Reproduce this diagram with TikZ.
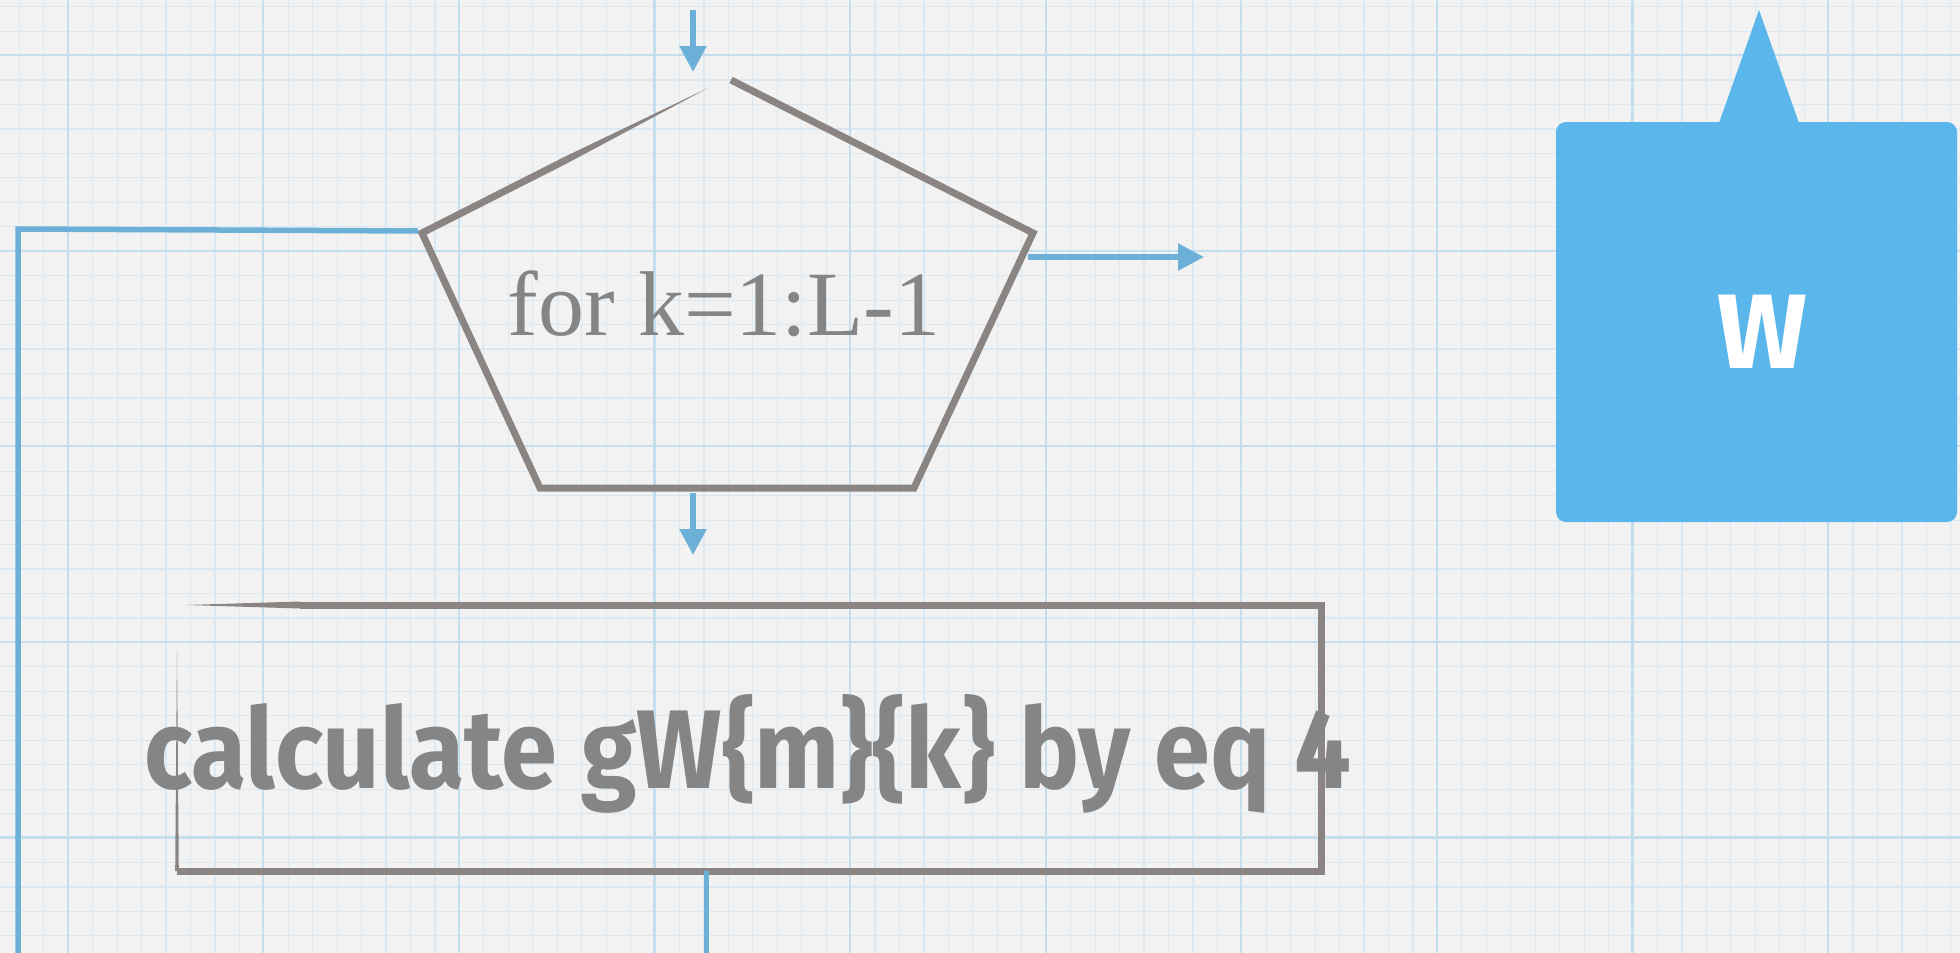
\documentclass[tikz,border=0pt]{standalone}
\usepackage{fontspec}
\setmainfont{Liberation Serif}
\newfontfamily\handfont[FakeStretch=0.9]{Fira Sans}
\newfontfamily\handfontwide{Fira Sans}
\usetikzlibrary{arrows.meta,calc}
\definecolor{paper}{HTML}{F2F2F2}
\definecolor{gridminor}{HTML}{D9E8F2}
\definecolor{gridmajor}{HTML}{C4DEEE}
\definecolor{flow}{HTML}{6CB0D8}
\definecolor{ink}{HTML}{8A8582}
\definecolor{inktext}{HTML}{858585}
\definecolor{callblue}{HTML}{5BB6EC}
\begin{document}
\begin{tikzpicture}[x=1pt,y=-1pt,
  flowline/.style={draw=flow,line width=5.5pt},
  flowarrow/.style={flowline,-{Triangle[length=26pt,width=26pt]}},
  inkline/.style={draw=ink,line width=7pt,line join=miter},
  minorgrid/.style={draw=gridminor,line width=1.2pt},
  majorgrid/.style={draw=gridmajor,line width=2.2pt},
  fortextstyle/.style={text=inktext,font=\fontsize{92}{92}\selectfont,anchor=base,inner sep=0pt},
  handtext/.style={text=inktext,font=\handfont\bfseries\fontsize{112}{112}\selectfont,anchor=base,inner sep=0pt},
  wtextstyle/.style={text=white,font=\handfontwide\bfseries\fontsize{106}{106}\selectfont,inner sep=0pt},
  callbox/.style={fill=callblue,rounded corners=10pt,minimum width=401pt,minimum height=400pt,inner sep=0pt}
]
\useasboundingbox (0,0) rectangle (1960,953);
% paper
\fill[paper] (0,0) rectangle (1960,953);
\foreach \i in {0,...,80} \draw[minorgrid] ({19.3+24.45*\i},0) -- ++(0,953);
\foreach \i in {0,...,39} \draw[minorgrid] (0,{6.7+24.45*\i}) -- ++(1960,0);
\foreach \i in {0,...,9} \draw[majorgrid] ({67.7+195.6*\i},0) -- ++(0,953);
\foreach \i in {0,...,4} \draw[majorgrid] (0,{55+195.6*\i}) -- ++(1960,0);

% pentagon
\coordinate (pTopR) at (731,80);
\coordinate (pTopL) at (708,88);
\coordinate (pR) at (1033,233);
\coordinate (pBR) at (914,488);
\coordinate (pBL) at (540,488);
\coordinate (pL) at (422,233);
\coordinate (pLmid) at ($(pL)!0.5!(pTopL)$);
\draw[inkline] (pTopR) -- (pR) -- (pBR) -- (pBL) -- (pL) -- (pLmid);
\fill[ink] ($(pLmid)+(-1.6,-3.1)$) -- ($(pLmid)+(1.6,3.1)$) -- (pTopL) -- cycle;
\node[fortextstyle] (fortext) at (724,335) {for k=1:L-1};

% rectangle
\coordinate (rTL) at (177,605);
\coordinate (rTR) at (1321,605);
\coordinate (rBR) at (1321,871);
\coordinate (rBL) at (177,871);
\coordinate (rTstart) at (186,605);
\coordinate (rLtop) at (177,650);
\draw[inkline,line width=7pt] (300,605) -- (rTR) -- (rBR) -- (rBL);
\fill[ink] (rTstart) -- (300,601.5) -- (300,608.5) -- cycle;
\fill[ink] (rLtop) -- (178.8,871) -- (175.2,871) -- cycle;
\node[handtext] (calctext) at (748,788) {calculate gW\{m\}\{k\} by eq 4};

% connectors
\coordinate (inTop) at (693,10);
\coordinate (inTip) at (693,72);
\draw[flowarrow] (inTop) -- (inTip);
\coordinate (outRs) at (1028,257);
\coordinate (outRe) at (1204,257);
\draw[flowarrow] (outRs) -- (outRe);
\coordinate (downS) at (693,493);
\coordinate (downE) at (693,555);
\draw[flowarrow] (downS) -- (downE);
\coordinate (rOut) at (706,871);
\coordinate (rOutEnd) at (706,953);
\draw[flowline,line width=5pt] (rOut) -- (rOutEnd);
\coordinate (loopIn) at (418,231);
\coordinate (loopCorner) at (18,229);
\coordinate (loopBottom) at (18,953);
\draw[flowline,line join=miter] (loopIn) -- (loopCorner) -- (loopBottom);

% callout
\node[callbox] (wbox) at (1756.5,322) {};
\fill[callblue] (1719,123) -- (1759,10) -- (1799,123) -- cycle;
\node[wtextstyle] (wlabel) at (1762,332) {W};
\end{tikzpicture}
\end{document}
